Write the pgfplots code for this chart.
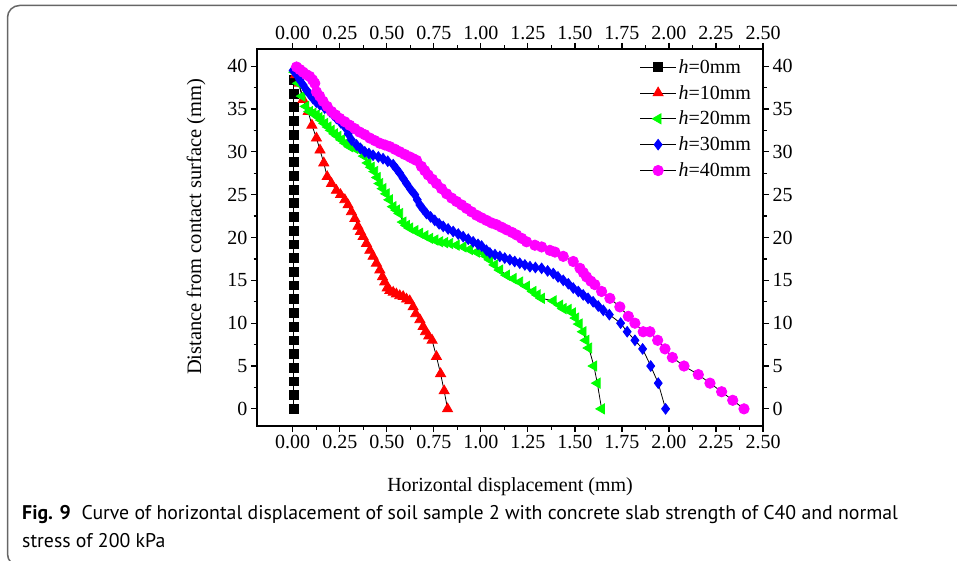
\documentclass[border=0pt]{standalone}
\usepackage{fontspec}
\setmainfont{Liberation Serif}
\newfontfamily\capfont{PT Sans}
\usepackage{pgfplots}
\pgfplotsset{compat=1.18}
\definecolor{cR}{RGB}{255,0,0}
\definecolor{cG}{RGB}{0,255,0}
\definecolor{cB}{RGB}{0,0,255}
\definecolor{cM}{RGB}{255,0,255}

\pgfplotsset{
  base/.style={
    scale only axis, width=506pt, height=377pt,
    xmin=-0.19, xmax=2.5, ymin=-2, ymax=42,
    xtick={0,0.25,0.5,0.75,1,1.25,1.5,1.75,2,2.25,2.5},
    ytick={0,5,10,15,20,25,30,35,40},
    minor x tick num=1, minor y tick num=1,
    tick align=outside,
    major tick length=6pt, minor tick length=3.5pt,
    every tick/.style={black, line width=1.2pt},
    axis line style={line width=1.3pt},
    /pgf/number format/assume math mode=true,
    x tick label style={/pgf/number format/.cd, fixed, fixed zerofill, precision=2, /tikz/.cd},
    tick label style={font=\fontsize{20}{24}\selectfont},
  },
  ser/.style={black, line width=0.8pt},
}

\begin{document}
\begin{tikzpicture}
\useasboundingbox (0,0) rectangle (957pt,560pt);
\draw[black!60, line width=1.5pt, rounded corners=12pt]
  (975pt,554.5pt) -- (7.5pt,554.5pt) -- (7.5pt,-6pt) -- (975pt,-6pt);

\begin{axis}[base, at={(257pt,134pt)}, anchor=south west,
  legend style={draw=none, fill=none, at={(0.754,0.981)}, anchor=north west,
    font=\fontsize{20}{24}\selectfont, inner sep=1pt, row sep=6.5pt},
  legend cell align=left,
  legend image code/.code={\draw[mark repeat=2,mark phase=2] plot coordinates {(0pt,0pt) (18pt,0pt) (36pt,0pt)};},
]
% h = 0 mm
\addplot[ser, mark=square*, mark size=4.4pt, mark options={black}] coordinates {
(0.006,0)(0.006,1.6)(0.006,3.2)(0.006,4.8)(0.006,6.4)(0.006,8.0)(0.006,9.6)(0.006,11.2)
(0.006,12.8)(0.006,14.4)(0.006,16.0)(0.006,17.6)(0.006,19.2)(0.006,20.8)(0.006,22.4)
(0.006,24.0)(0.006,25.6)(0.006,27.2)(0.006,28.8)(0.006,30.4)(0.006,32.0)(0.006,33.6)
(0.006,35.2)(0.006,36.8)(0.006,38.4)};
% h = 10 mm
\addplot[ser, mark=triangle*, mark size=5.8pt, mark options={cR}] coordinates {
(0.015,39.0)(0.035,38.0)(0.055,36.1)(0.082,34.7)(0.102,33.1)(0.126,31.6)(0.145,30.2)
(0.165,28.7)(0.183,27.1)(0.206,26.3)(0.232,25.5)(0.254,25.0)(0.277,24.4)(0.294,23.8)
(0.312,23.0)(0.330,22.2)(0.347,21.3)(0.360,20.7)(0.374,20.1)(0.392,19.3)(0.410,18.5)
(0.427,17.8)(0.445,17.0)(0.463,16.2)(0.477,15.4)(0.489,14.8)(0.502,14.1)(0.516,13.8)
(0.534,13.6)(0.551,13.4)(0.569,13.2)(0.587,13.1)(0.605,12.8)(0.622,12.6)(0.640,11.9)
(0.654,11.1)(0.676,10.4)(0.693,9.6)(0.706,9.0)(0.723,8.5)(0.741,8.0)(0.764,6.1)
(0.786,4.1)(0.805,2.1)(0.823,0)};
% h = 20 mm
\addplot[ser, mark=triangle*, mark size=5.8pt, mark options={cG, rotate=90}] coordinates {
(0.010,39.3)(0.030,38.0)(0.050,36.5)(0.070,35.3)(0.090,34.7)(0.108,34.5)(0.126,34.3)
(0.140,34.0)(0.152,33.7)(0.170,33.3)(0.188,32.9)(0.205,32.5)(0.223,32.1)(0.241,31.8)
(0.259,31.4)(0.281,31.0)(0.303,30.6)(0.330,30.4)(0.356,30.2)(0.380,29.5)(0.400,28.7)
(0.418,28.2)(0.436,27.7)(0.450,27.0)(0.463,26.3)(0.480,25.7)(0.498,25.1)(0.515,24.4)
(0.534,23.6)(0.552,23.2)(0.569,22.8)(0.587,21.8)(0.605,21.4)(0.622,21.1)(0.650,20.8)
(0.676,20.5)(0.703,20.2)(0.729,19.9)(0.756,19.7)(0.782,19.5)(0.808,19.4)(0.835,19.3)
(0.870,19.1)(0.906,18.9)(0.940,18.6)(0.977,18.3)(1.012,18.2)(1.030,17.8)(1.048,17.4)
(1.074,16.8)(1.101,16.2)(1.137,15.6)(1.172,15.2)(1.207,14.8)(1.243,14.3)(1.278,13.7)
(1.300,13.3)(1.323,12.9)(1.385,12.6)(1.420,12.1)(1.438,11.7)(1.465,11.6)(1.488,11.2)
(1.505,10.6)(1.523,9.9)(1.544,9.0)(1.559,8.0)(1.574,7.1)(1.601,5.0)(1.619,3.0)(1.642,0)};
% h = 30 mm
\addplot[ser, mark=diamond*, mark size=5.3pt, mark options={cB}] coordinates {
(0.002,39.5)(0.020,39.0)(0.037,38.4)(0.055,37.8)(0.073,37.2)(0.090,36.7)(0.108,36.2)
(0.125,35.8)(0.144,35.5)(0.170,35.1)(0.197,34.7)(0.215,34.3)(0.232,33.9)(0.255,33.4)
(0.277,32.9)(0.295,32.1)(0.312,31.4)(0.339,30.8)(0.360,30.4)(0.383,30.0)(0.405,29.8)
(0.427,29.6)(0.455,29.4)(0.480,29.2)(0.505,28.9)(0.534,28.5)(0.552,28.0)(0.569,27.5)
(0.587,26.9)(0.605,26.3)(0.627,25.6)(0.649,25.0)(0.662,24.4)(0.676,23.8)(0.693,23.3)
(0.711,22.8)(0.733,22.4)(0.755,22.0)(0.778,21.6)(0.800,21.3)(0.826,21.0)(0.853,20.7)
(0.880,20.4)(0.906,20.1)(0.933,19.8)(0.959,19.5)(0.985,19.2)(1.004,19.0)(1.030,18.5)
(1.048,18.2)(1.075,18.0)(1.101,17.8)(1.127,17.6)(1.154,17.4)(1.180,17.2)(1.207,17.0)
(1.234,16.8)(1.261,16.6)(1.290,16.5)(1.323,16.4)(1.355,16.1)(1.385,15.8)(1.410,15.4)
(1.438,15.0)(1.465,14.6)(1.491,14.1)(1.518,13.7)(1.544,13.3)(1.570,12.9)(1.597,12.5)
(1.624,12.0)(1.651,11.5)(1.683,11.0)(1.743,10.0)(1.778,9.0)(1.819,8.0)(1.860,7.0)
(1.903,5.0)(1.943,3.0)(1.982,0)};
% h = 40 mm
\addplot[ser, mark=*, mark size=5.2pt, mark options={cM}] coordinates {
(0.020,39.9)(0.038,39.6)(0.055,39.3)(0.073,39.0)(0.090,38.8)(0.105,38.4)(0.117,38.0)
(0.126,37.0)(0.143,36.5)(0.161,35.9)(0.183,35.3)(0.206,34.7)(0.228,34.3)(0.250,33.9)
(0.277,33.5)(0.303,33.1)(0.330,32.7)(0.356,32.3)(0.383,32.0)(0.410,31.6)(0.437,31.3)
(0.463,31.0)(0.490,30.8)(0.516,30.6)(0.543,30.3)(0.569,30.0)(0.595,29.7)(0.622,29.4)
(0.640,29.2)(0.658,29.0)(0.684,28.3)(0.702,27.8)(0.720,27.3)(0.742,26.8)(0.764,26.3)
(0.791,25.7)(0.818,25.1)(0.845,24.6)(0.871,24.2)(0.898,23.8)(0.924,23.4)(0.950,23.0)
(0.977,22.6)(1.003,22.3)(1.030,22.0)(1.057,21.7)(1.083,21.5)(1.110,21.2)(1.137,20.9)
(1.165,20.6)(1.190,20.3)(1.217,19.9)(1.243,19.5)(1.287,19.1)(1.323,18.9)(1.367,18.5)
(1.394,18.3)(1.438,17.8)(1.491,17.2)(1.527,16.4)(1.545,15.9)(1.562,15.4)(1.585,14.9)
(1.606,14.5)(1.642,13.7)(1.686,12.9)(1.739,11.9)(1.784,10.8)(1.819,10.0)(1.863,9.0)
(1.899,9.0)(1.940,8.0)(1.979,7.0)(2.018,6.0)(2.080,5.0)(2.156,4.0)(2.218,3.0)
(2.280,2.0)(2.339,1.0)(2.399,0)};
\legend{\textit{h}=0mm, \textit{h}=10mm, \textit{h}=20mm, \textit{h}=30mm, \textit{h}=40mm}
\end{axis}

% tick labels on the top and right sides
\begin{axis}[base, at={(257pt,134pt)}, anchor=south west,
  xticklabel pos=right, yticklabel pos=right,
  axis line style={draw=none}, every tick/.style={draw=none}]
\addplot[draw=none] coordinates {(0,0)};
\end{axis}

\node[rotate=90, font=\fontsize{20.5}{24}\selectfont] at (196pt,333pt) {Distance from contact surface (mm)};
\node[font=\fontsize{20}{24}\selectfont] at (510pt,73pt) {Horizontal displacement (mm)};
\node[anchor=base west, inner sep=0pt, font=\capfont\fontsize{19.8}{24}\selectfont] at (22pt,41pt)
  {\textbf{Fig. 9}\ \ Curve of horizontal displacement of soil sample 2 with concrete slab strength of C40 and normal};
\node[anchor=base west, inner sep=0pt, font=\capfont\fontsize{19.8}{24}\selectfont] at (22pt,13pt)
  {stress of 200 kPa};
\end{tikzpicture}
\end{document}
